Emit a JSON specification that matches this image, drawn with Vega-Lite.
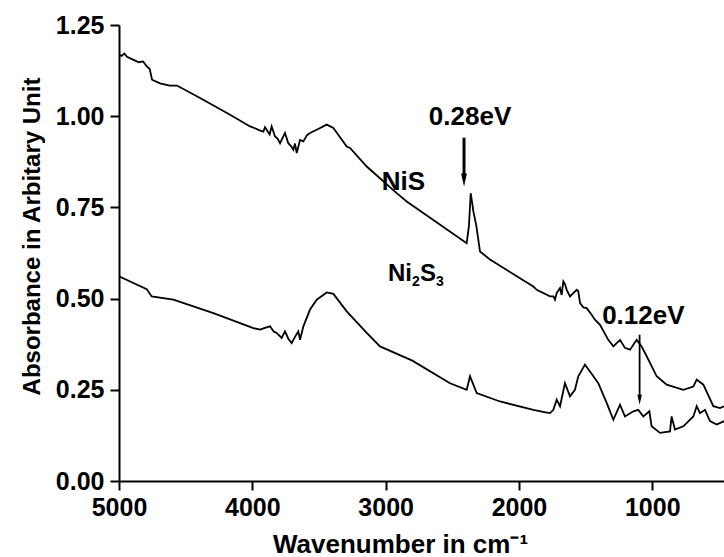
{
  "$schema": "https://vega.github.io/schema/vega-lite/v6.json",
  "autosize": {"type": "none"},
  "width": 605,
  "height": 456,
  "padding": {"left": 119, "top": 25, "right": 0, "bottom": 76},
  "background": "white",
  "config": {
    "view": {"stroke": null},
    "font": "Liberation Sans",
    "axis": {
      "grid": false,
      "domainColor": "black",
      "domainWidth": 2,
      "tickColor": "black",
      "tickWidth": 2,
      "tickSize": 9,
      "labelFont": "Liberation Sans",
      "labelFontWeight": "bold",
      "labelFontSize": 25,
      "labelColor": "black",
      "labelFlush": false,
      "titleFont": "Liberation Sans",
      "titleFontWeight": "bold",
      "titleFontSize": 24,
      "titleColor": "black"
    }
  },
  "datasets": {
    "curves": [
      {"s": "NiS", "w": 5000, "a": 1.169}, {"s": "NiS", "w": 4980, "a": 1.165}, {"s": "NiS", "w": 4960, "a": 1.172}, {"s": "NiS", "w": 4940, "a": 1.163}, {"s": "NiS", "w": 4895, "a": 1.155}, {"s": "NiS", "w": 4850, "a": 1.148}, {"s": "NiS", "w": 4820, "a": 1.150}, {"s": "NiS", "w": 4790, "a": 1.136}, {"s": "NiS", "w": 4770, "a": 1.130}, {"s": "NiS", "w": 4752, "a": 1.100}, {"s": "NiS", "w": 4692, "a": 1.090}, {"s": "NiS", "w": 4620, "a": 1.084}, {"s": "NiS", "w": 4565, "a": 1.084}, {"s": "NiS", "w": 4392, "a": 1.050}, {"s": "NiS", "w": 4167, "a": 1.004}, {"s": "NiS", "w": 4017, "a": 0.972}, {"s": "NiS", "w": 3980, "a": 0.967}, {"s": "NiS", "w": 3950, "a": 0.962}, {"s": "NiS", "w": 3917, "a": 0.958}, {"s": "NiS", "w": 3905, "a": 0.970}, {"s": "NiS", "w": 3892, "a": 0.963}, {"s": "NiS", "w": 3870, "a": 0.950}, {"s": "NiS", "w": 3855, "a": 0.972}, {"s": "NiS", "w": 3830, "a": 0.945}, {"s": "NiS", "w": 3810, "a": 0.938}, {"s": "NiS", "w": 3792, "a": 0.926}, {"s": "NiS", "w": 3755, "a": 0.954}, {"s": "NiS", "w": 3730, "a": 0.926}, {"s": "NiS", "w": 3710, "a": 0.918}, {"s": "NiS", "w": 3692, "a": 0.908}, {"s": "NiS", "w": 3680, "a": 0.925}, {"s": "NiS", "w": 3667, "a": 0.899}, {"s": "NiS", "w": 3642, "a": 0.935}, {"s": "NiS", "w": 3617, "a": 0.931}, {"s": "NiS", "w": 3590, "a": 0.948}, {"s": "NiS", "w": 3567, "a": 0.954}, {"s": "NiS", "w": 3517, "a": 0.963}, {"s": "NiS", "w": 3442, "a": 0.977}, {"s": "NiS", "w": 3392, "a": 0.968}, {"s": "NiS", "w": 3292, "a": 0.917}, {"s": "NiS", "w": 3267, "a": 0.913}, {"s": "NiS", "w": 3142, "a": 0.862}, {"s": "NiS", "w": 2917, "a": 0.789}, {"s": "NiS", "w": 2842, "a": 0.766}, {"s": "NiS", "w": 2645, "a": 0.716}, {"s": "NiS", "w": 2392, "a": 0.652}, {"s": "NiS", "w": 2375, "a": 0.700}, {"s": "NiS", "w": 2362, "a": 0.789}, {"s": "NiS", "w": 2350, "a": 0.760}, {"s": "NiS", "w": 2342, "a": 0.739}, {"s": "NiS", "w": 2320, "a": 0.700}, {"s": "NiS", "w": 2292, "a": 0.629}, {"s": "NiS", "w": 2217, "a": 0.607}, {"s": "NiS", "w": 1992, "a": 0.556}, {"s": "NiS", "w": 1892, "a": 0.533}, {"s": "NiS", "w": 1867, "a": 0.524}, {"s": "NiS", "w": 1767, "a": 0.506}, {"s": "NiS", "w": 1742, "a": 0.506}, {"s": "NiS", "w": 1730, "a": 0.497}, {"s": "NiS", "w": 1717, "a": 0.515}, {"s": "NiS", "w": 1692, "a": 0.529}, {"s": "NiS", "w": 1680, "a": 0.510}, {"s": "NiS", "w": 1667, "a": 0.547}, {"s": "NiS", "w": 1655, "a": 0.540}, {"s": "NiS", "w": 1642, "a": 0.524}, {"s": "NiS", "w": 1617, "a": 0.506}, {"s": "NiS", "w": 1592, "a": 0.515}, {"s": "NiS", "w": 1567, "a": 0.524}, {"s": "NiS", "w": 1555, "a": 0.520}, {"s": "NiS", "w": 1542, "a": 0.488}, {"s": "NiS", "w": 1517, "a": 0.476}, {"s": "NiS", "w": 1492, "a": 0.474}, {"s": "NiS", "w": 1455, "a": 0.456}, {"s": "NiS", "w": 1430, "a": 0.442}, {"s": "NiS", "w": 1392, "a": 0.428}, {"s": "NiS", "w": 1330, "a": 0.387}, {"s": "NiS", "w": 1292, "a": 0.369}, {"s": "NiS", "w": 1242, "a": 0.387}, {"s": "NiS", "w": 1205, "a": 0.365}, {"s": "NiS", "w": 1167, "a": 0.360}, {"s": "NiS", "w": 1117, "a": 0.387}, {"s": "NiS", "w": 1080, "a": 0.369}, {"s": "NiS", "w": 1042, "a": 0.342}, {"s": "NiS", "w": 967, "a": 0.287}, {"s": "NiS", "w": 892, "a": 0.264}, {"s": "NiS", "w": 767, "a": 0.250}, {"s": "NiS", "w": 692, "a": 0.259}, {"s": "NiS", "w": 667, "a": 0.278}, {"s": "NiS", "w": 617, "a": 0.264}, {"s": "NiS", "w": 542, "a": 0.205}, {"s": "NiS", "w": 492, "a": 0.200}, {"s": "NiS", "w": 462, "a": 0.205},

      {"s": "Ni2S3", "w": 5000, "a": 0.561}, {"s": "Ni2S3", "w": 4792, "a": 0.526}, {"s": "Ni2S3", "w": 4755, "a": 0.506}, {"s": "Ni2S3", "w": 4592, "a": 0.497}, {"s": "Ni2S3", "w": 4292, "a": 0.460}, {"s": "Ni2S3", "w": 4092, "a": 0.433}, {"s": "Ni2S3", "w": 3992, "a": 0.419}, {"s": "Ni2S3", "w": 3942, "a": 0.415}, {"s": "Ni2S3", "w": 3905, "a": 0.420}, {"s": "Ni2S3", "w": 3867, "a": 0.424}, {"s": "Ni2S3", "w": 3840, "a": 0.410}, {"s": "Ni2S3", "w": 3817, "a": 0.406}, {"s": "Ni2S3", "w": 3780, "a": 0.392}, {"s": "Ni2S3", "w": 3755, "a": 0.410}, {"s": "Ni2S3", "w": 3730, "a": 0.390}, {"s": "Ni2S3", "w": 3705, "a": 0.378}, {"s": "Ni2S3", "w": 3680, "a": 0.395}, {"s": "Ni2S3", "w": 3655, "a": 0.410}, {"s": "Ni2S3", "w": 3642, "a": 0.387}, {"s": "Ni2S3", "w": 3617, "a": 0.424}, {"s": "Ni2S3", "w": 3567, "a": 0.470}, {"s": "Ni2S3", "w": 3517, "a": 0.497}, {"s": "Ni2S3", "w": 3442, "a": 0.517}, {"s": "Ni2S3", "w": 3392, "a": 0.513}, {"s": "Ni2S3", "w": 3292, "a": 0.465}, {"s": "Ni2S3", "w": 3142, "a": 0.406}, {"s": "Ni2S3", "w": 3042, "a": 0.369}, {"s": "Ni2S3", "w": 2800, "a": 0.330}, {"s": "Ni2S3", "w": 2517, "a": 0.268}, {"s": "Ni2S3", "w": 2392, "a": 0.250}, {"s": "Ni2S3", "w": 2367, "a": 0.287}, {"s": "Ni2S3", "w": 2317, "a": 0.241}, {"s": "Ni2S3", "w": 2142, "a": 0.218}, {"s": "Ni2S3", "w": 1892, "a": 0.195}, {"s": "Ni2S3", "w": 1800, "a": 0.188}, {"s": "Ni2S3", "w": 1767, "a": 0.186}, {"s": "Ni2S3", "w": 1742, "a": 0.195}, {"s": "Ni2S3", "w": 1717, "a": 0.223}, {"s": "Ni2S3", "w": 1692, "a": 0.205}, {"s": "Ni2S3", "w": 1655, "a": 0.268}, {"s": "Ni2S3", "w": 1617, "a": 0.232}, {"s": "Ni2S3", "w": 1580, "a": 0.250}, {"s": "Ni2S3", "w": 1555, "a": 0.287}, {"s": "Ni2S3", "w": 1505, "a": 0.319}, {"s": "Ni2S3", "w": 1467, "a": 0.300}, {"s": "Ni2S3", "w": 1405, "a": 0.268}, {"s": "Ni2S3", "w": 1342, "a": 0.214}, {"s": "Ni2S3", "w": 1292, "a": 0.168}, {"s": "Ni2S3", "w": 1242, "a": 0.209}, {"s": "Ni2S3", "w": 1205, "a": 0.177}, {"s": "Ni2S3", "w": 1142, "a": 0.191}, {"s": "Ni2S3", "w": 1105, "a": 0.195}, {"s": "Ni2S3", "w": 1067, "a": 0.177}, {"s": "Ni2S3", "w": 1022, "a": 0.191}, {"s": "Ni2S3", "w": 1005, "a": 0.150}, {"s": "Ni2S3", "w": 942, "a": 0.132}, {"s": "Ni2S3", "w": 867, "a": 0.136}, {"s": "Ni2S3", "w": 855, "a": 0.177}, {"s": "Ni2S3", "w": 830, "a": 0.141}, {"s": "Ni2S3", "w": 767, "a": 0.150}, {"s": "Ni2S3", "w": 692, "a": 0.177}, {"s": "Ni2S3", "w": 667, "a": 0.205}, {"s": "Ni2S3", "w": 642, "a": 0.186}, {"s": "Ni2S3", "w": 605, "a": 0.195}, {"s": "Ni2S3", "w": 567, "a": 0.164}, {"s": "Ni2S3", "w": 517, "a": 0.155}, {"s": "Ni2S3", "w": 462, "a": 0.164}
    ],
    "labels": [
      {"t": "0.28eV", "w": 2367, "a": 0.975},
      {"t": "0.12eV", "w": 1067, "a": 0.431},
      {"t": "NiS", "w": 2867, "a": 0.797}
    ],
    "formula": [
      {"w": 2982, "a": 0.549}
    ],
    "arrows": [
      {"w": 2412, "a1": 0.941, "a2": 0.83, "sw": 3},
      {"w": 1095, "a1": 0.401, "a2": 0.225, "sw": 1.8}
    ],
    "heads": [
      {"w": 2412, "a": 0.825, "sz": 169},
      {"w": 1095, "a": 0.223, "sz": 100}
    ]
  },
  "layer": [
    {
      "data": {"name": "curves"},
      "mark": {"type": "line", "color": "black", "strokeWidth": 1.8, "clip": true},
      "encoding": {
        "x": {
          "field": "w", "type": "quantitative",
          "scale": {"domain": [5000, 462], "nice": false, "zero": false},
          "axis": {"values": [5000, 4000, 3000, 2000, 1000], "format": "d", "labelPadding": 5, "title": "Wavenumber in cm⁻¹", "titleFontSize": 26, "titleX": 281, "titleY": 71, "titleBaseline": "alphabetic", "titleAlign": "center"}
        },
        "y": {
          "field": "a", "type": "quantitative",
          "scale": {"domain": [0, 1.25], "nice": false, "zero": false},
          "axis": {"values": [0, 0.25, 0.5, 0.75, 1, 1.25], "format": ".2f", "labelPadding": 6, "title": "Absorbance in Arbitary Unit", "titleX": -75, "titleY": 211, "titleAlign": "center", "titleAngle": -90, "titleBaseline": "bottom"}
        },
        "detail": {"field": "s"},
        "order": {"field": "w", "type": "quantitative", "sort": "descending"}
      }
    },
    {
      "data": {"name": "arrows"},
      "mark": {"type": "rule", "color": "black"},
      "encoding": {
        "x": {"field": "w", "type": "quantitative"},
        "y": {"field": "a1", "type": "quantitative"},
        "y2": {"field": "a2"},
        "strokeWidth": {"field": "sw", "type": "quantitative", "scale": null}
      }
    },
    {
      "data": {"name": "heads"},
      "mark": {"type": "point", "shape": "M-0.45,-1L0.45,-1L0,1Z", "filled": true, "color": "black", "opacity": 1},
      "encoding": {
        "x": {"field": "w", "type": "quantitative"},
        "y": {"field": "a", "type": "quantitative"},
        "size": {"field": "sz", "type": "quantitative", "scale": null}
      }
    },
    {
      "data": {"name": "labels"},
      "mark": {"type": "text", "font": "Liberation Sans", "fontWeight": "bold", "fontSize": 26, "color": "black", "align": "center", "baseline": "alphabetic"},
      "encoding": {
        "x": {"field": "w", "type": "quantitative"},
        "y": {"field": "a", "type": "quantitative"},
        "text": {"value": ""}
      }
    },
    {
      "data": {"name": "labels"},
      "mark": {"type": "text", "font": "Liberation Sans", "fontWeight": "bold", "fontSize": 26, "color": "black", "align": "center", "baseline": "alphabetic"},
      "encoding": {
        "x": {"field": "w", "type": "quantitative"},
        "y": {"field": "a", "type": "quantitative"},
        "text": {"field": "t"}
      }
    },
    {
      "data": {"name": "formula"},
      "mark": {"type": "text", "font": "Liberation Sans", "fontWeight": "bold", "fontSize": 24, "color": "black", "align": "left", "baseline": "alphabetic"},
      "encoding": {
        "x": {"field": "w", "type": "quantitative"},
        "y": {"field": "a", "type": "quantitative"},
        "text": {"value": "Ni"}
      }
    },
    {
      "data": {"name": "formula"},
      "mark": {"type": "text", "font": "Liberation Sans", "fontWeight": "bold", "fontSize": 14, "color": "black", "align": "left", "baseline": "alphabetic", "dx": 24, "dy": 5},
      "encoding": {
        "x": {"field": "w", "type": "quantitative"},
        "y": {"field": "a", "type": "quantitative"},
        "text": {"value": "2"}
      }
    },
    {
      "data": {"name": "formula"},
      "mark": {"type": "text", "font": "Liberation Sans", "fontWeight": "bold", "fontSize": 24, "color": "black", "align": "left", "baseline": "alphabetic", "dx": 32},
      "encoding": {
        "x": {"field": "w", "type": "quantitative"},
        "y": {"field": "a", "type": "quantitative"},
        "text": {"value": "S"}
      }
    },
    {
      "data": {"name": "formula"},
      "mark": {"type": "text", "font": "Liberation Sans", "fontWeight": "bold", "fontSize": 14, "color": "black", "align": "left", "baseline": "alphabetic", "dx": 48, "dy": 5},
      "encoding": {
        "x": {"field": "w", "type": "quantitative"},
        "y": {"field": "a", "type": "quantitative"},
        "text": {"value": "3"}
      }
    }
  ]
}
